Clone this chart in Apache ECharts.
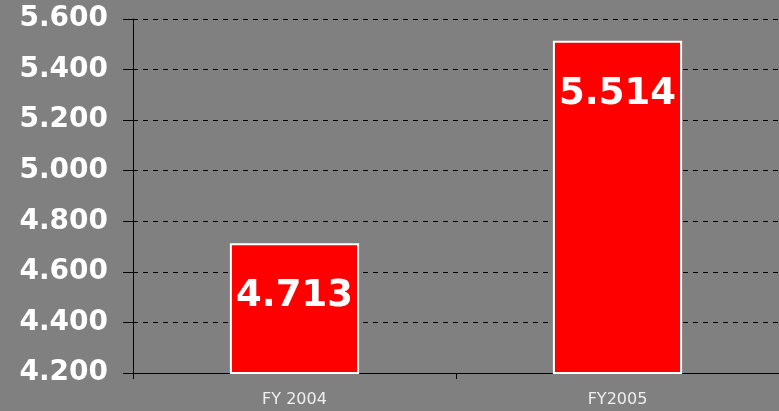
<!DOCTYPE html>
<html>
<head>
<meta charset="utf-8">
<script src="https://cdn.jsdelivr.net/npm/echarts@6/dist/echarts.min.js"></script>
<style>
  html, body { margin: 0; padding: 0; background: #808080; }
  #chart { width: 779px; height: 411px; }
</style>
</head>
<body>
<div id="chart"></div>
<script>
// categories and values
const categories = ["FY 2004", "FY2005"];
const values = [4.713, 5.514];
const yMin = 4.2;
const yMax = 5.6;
const yStep = 0.2;

const chart = echarts.init(document.getElementById("chart"));
const font = "DejaVu Sans, Verdana, sans-serif";

const option = {
  backgroundColor: "#808080",
  animation: false,
  grid: {
    left: 133,
    right: 0,
    top: 19,
    bottom: 38,
  },
  xAxis: {
    type: "category",
    data: categories,
    axisLine: { show: true, lineStyle: { color: "#000", width: 1 } },
    axisTick: { show: true, alignWithLabel: false, length: 6, lineStyle: { color: "#000" } },
    axisLabel: {
      color: "#eeeeee",
      fontSize: 16,
      fontFamily: font,
      margin: 19,
    },
  },
  yAxis: {
    type: "value",
    min: yMin,
    max: yMax,
    interval: yStep,
    axisLine: { show: true, lineStyle: { color: "#000", width: 1 } },
    axisTick: { show: true, length: 10, inside: false, lineStyle: { color: "#000" } },
    splitLine: {
      show: true,
      lineStyle: { color: "#000", type: [5, 5], width: 1 },
    },
    axisLabel: {
      color: "#fff",
      fontSize: 28,
      fontWeight: "bold",
      fontFamily: font,
      margin: 25,
      formatter: function (v) {
        return v.toFixed(3);
      },
    },
  },
  series: [
    {
      type: "bar",
      data: values,
      barWidth: "40%",
      itemStyle: {
        color: "#ff0000",
        borderColor: "#fff",
        borderWidth: 2,
      },
      label: {
        show: true,
        position: "insideTop",
        distance: 35,
        color: "#fff",
        fontSize: 37,
        fontWeight: "bold",
        fontFamily: font,
        formatter: function (p) {
          return p.value.toFixed(3);
        },
      },
    },
  ],
};
chart.setOption(option);
</script>
</body>
</html>
